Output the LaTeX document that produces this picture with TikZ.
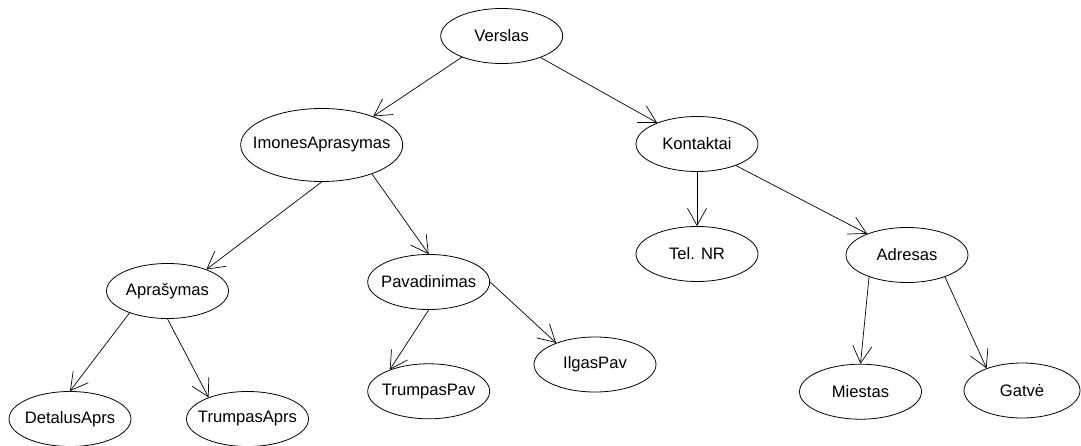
\documentclass[tikz,border=0pt]{standalone}
\usepackage{fontspec}
\setmainfont{Liberation Sans}
\usetikzlibrary{shapes.geometric,arrows.meta}
% zero-width label so the ellipse keeps its set size
\newcommand{\entlabel}[1]{\makebox[0pt]{#1}}
\begin{document}
\begin{tikzpicture}[x=1pt,y=-1pt,
  ent/.style={ellipse,draw,line width=0.8pt,inner sep=0pt,
    minimum width=122pt,minimum height=55pt,
    font=\fontsize{16.6}{18}\selectfont},
  link/.style={draw,line width=0.7pt,
    -{Straight Barb[length=17pt,width=19pt,line width=0.7pt]}}]
\useasboundingbox (0,0) rectangle (1081,446);

% tree of entities
\node[ent] (vers) at (501.7,36) {\entlabel{Verslas}};
\node[ent,minimum width=162pt,minimum height=73pt] (imon) at (321.7,145) {\entlabel{ImonesAprasymas}};
\node[ent] (kont) at (697,144) {\entlabel{Kontaktai}};
\node[ent] (apra) at (167.5,291) {\entlabel{Aprašymas}};
\node[ent] (pava) at (428.7,282) {\entlabel{Pavadinimas}};
\node[ent] (tel) at (697,254) {\entlabel{Tel. NR}};
\node[ent] (adr) at (907,255) {\entlabel{Adresas}};
\node[ent] (det) at (70,419) {\entlabel{DetalusAprs}};
\node[ent] (trA) at (247.5,419) {\entlabel{TrumpasAprs}};
\node[ent] (trP) at (428.7,391.3) {\entlabel{TrumpasPav}};
\node[ent] (ilg) at (595,364.5) {\entlabel{IlgasPav}};
\node[ent] (mie) at (860.5,391.7) {\entlabel{Miestas}};
\node[ent,minimum width=116pt] (gat) at (1022,390.5) {\entlabel{Gatvė}};

% parent -> child links
\path[link] (vers.208) -- (imon.29);
\path[link] (vers.331) -- (kont.152);
\path[link] (kont.270) -- (tel.90);
\path[link] (kont.331) -- (adr.152);
\path[link] (imon.270) -- (apra.29);
\path[link] (imon.330) -- (pava.90);
\path[link] (apra.210) -- (det.90);
\path[link] (apra.270) -- (trA.151);
\path[link] (pava.270) -- (trP.151);
\path[link] (pava.0) -- (ilg.151);
\path[link] (adr.210) -- (mie.90);
\path[link] (adr.330) -- (gat.148);
\end{tikzpicture}
\end{document}
